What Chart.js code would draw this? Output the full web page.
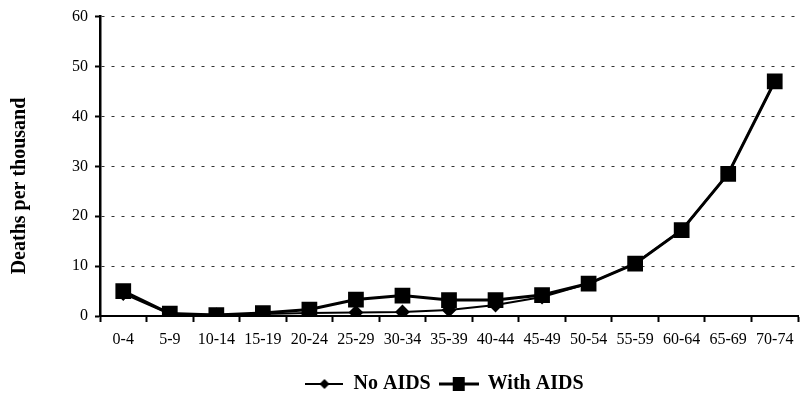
<!DOCTYPE html>
<html>
<head>
<meta charset="utf-8">
<script src="https://cdn.jsdelivr.net/npm/chart.js@4/dist/chart.umd.min.js"></script>
<style>
  html, body { margin: 0; padding: 0; background: #fff; }
  #wrap { width: 810px; height: 394px; }
</style>
</head>
<body>
<div id="wrap"><canvas id="deathChart" width="810" height="394"></canvas></div>
<script>
// age groups and death rates (per thousand)
const ageGroups = ["0-4", "5-9", "10-14", "15-19", "20-24", "25-29", "30-34", "35-39",
                   "40-44", "45-49", "50-54", "55-59", "60-64", "65-69", "70-74"];
const noAids   = [4.5, 0.4, 0.2, 0.4, 0.6, 0.7, 0.8, 1.2, 2.2, 3.8, 6.5, 10.5, 17.2, 28.5, 47];
const withAids = [5.0, 0.5, 0.2, 0.6, 1.3, 3.3, 4.1, 3.2, 3.2, 4.2, 6.5, 10.5, 17.2, 28.5, 47];
const yTicks   = [0, 10, 20, 30, 40, 50, 60];
const yTitle   = "Deaths per thousand";

const serif = "'Liberation Serif', 'Times New Roman', serif";

// small legend icon: line through a marker
function legendIcon(shape, lw, w) {
    const c = document.createElement("canvas");
    c.width = w; c.height = 16;
    const g = c.getContext("2d");
    g.strokeStyle = "#000"; g.fillStyle = "#000"; g.lineWidth = lw;
    g.beginPath(); g.moveTo(0, 8); g.lineTo(w, 8); g.stroke();
    const m = w / 2;
    if (shape === "diamond") {
        g.beginPath(); g.moveTo(m, 3); g.lineTo(m + 5, 8); g.lineTo(m, 13); g.lineTo(m - 5, 8); g.closePath(); g.fill();
    } else {
        g.fillRect(m - 6, 1, 12, 14);
    }
    return c;
}

// y axis title drawn a bit below the plot centre, like the original
const yTitlePlugin = {
    id: "yTitlePlugin",
    afterDraw(chart) {
        const ctx = chart.ctx;
        ctx.save();
        ctx.translate(20, 186);
        ctx.rotate(-Math.PI / 2);
        ctx.font = "bold 20px " + serif;
        ctx.fillStyle = "#000";
        ctx.textAlign = "center";
        ctx.textBaseline = "middle";
        ctx.fillText(yTitle, 0, 0);
        ctx.restore();
    }
};

// legend sits lower and a bit right of the canvas centre in the original
const legendShift = {
    id: "legendShift",
    afterLayout(chart) {
        const lg = chart.legend;
        if (!lg) return;
        lg.top += 10; lg.bottom += 10;
        lg.left += 42; lg.right += 42;
    }
};

new Chart(document.getElementById("deathChart"), {
    type: "line",
    data: {
        labels: ageGroups,
        datasets: [
            {
                label: "No AIDS",
                data: noAids,
                borderColor: "#000",
                backgroundColor: "#000",
                borderWidth: 2,
                pointStyle: "rectRot",
                pointRadius: 6,
                pointHoverRadius: 6,
                tension: 0
            },
            {
                label: "With AIDS",
                data: withAids,
                borderColor: "#000",
                backgroundColor: "#000",
                borderWidth: 3,
                pointStyle: "rect",
                pointRadius: 9,
                pointHoverRadius: 9,
                tension: 0
            }
        ]
    },
    plugins: [yTitlePlugin, legendShift],
    options: {
        responsive: false,
        animation: false,
        layout: { padding: { top: 14, right: 0, left: 0, bottom: 0 } },
        plugins: {
            tooltip: { enabled: false },
            legend: {
                position: "bottom",
                labels: {
                    usePointStyle: true,
                    pointStyleWidth: 38,
                    color: "#000",
                    font: { family: serif, size: 20, weight: "bold" },
                    padding: 4,
                    generateLabels: function (chart) {
                        return chart.data.datasets.map((ds, i) => ({
                            text: ds.label + " ",
                            datasetIndex: i,
                            fontColor: "#000",
                            pointStyle: i === 0 ? legendIcon("diamond", 2, 38) : legendIcon("square", 3, 40),
                            lineWidth: 0,
                            strokeStyle: "#000",
                            fillStyle: "#000"
                        }));
                    }
                }
            }
        },
        scales: {
            x: {
                offset: true,
                grid: {
                    offset: true,
                    drawOnChartArea: false,
                    drawTicks: true,
                    tickLength: 6,
                    tickColor: "#000",
                    tickWidth: 2
                },
                border: { color: "#000", width: 2 },
                ticks: {
                    color: "#000",
                    font: { family: serif, size: 16 },
                    maxRotation: 0,
                    autoSkip: false,
                    padding: 8
                },
                afterFit: function (scale) { scale.height = 44; }
            },
            y: {
                min: 0,
                max: 60,
                afterBuildTicks: function (scale) {
                    scale.ticks = yTicks.map(v => ({ value: v }));
                },
                grid: {
                    color: "#333",
                    lineWidth: 1,
                    tickLength: 5,
                    tickColor: "#000",
                    tickWidth: 2,
                    tickBorderDash: []
                },
                border: { color: "#000", width: 2.5, dash: [3, 7] },
                ticks: {
                    color: "#000",
                    font: { family: serif, size: 16 },
                    padding: 7
                },
                afterFit: function (scale) { scale.width = 100; }
            }
        }
    }
});
</script>
</body>
</html>
